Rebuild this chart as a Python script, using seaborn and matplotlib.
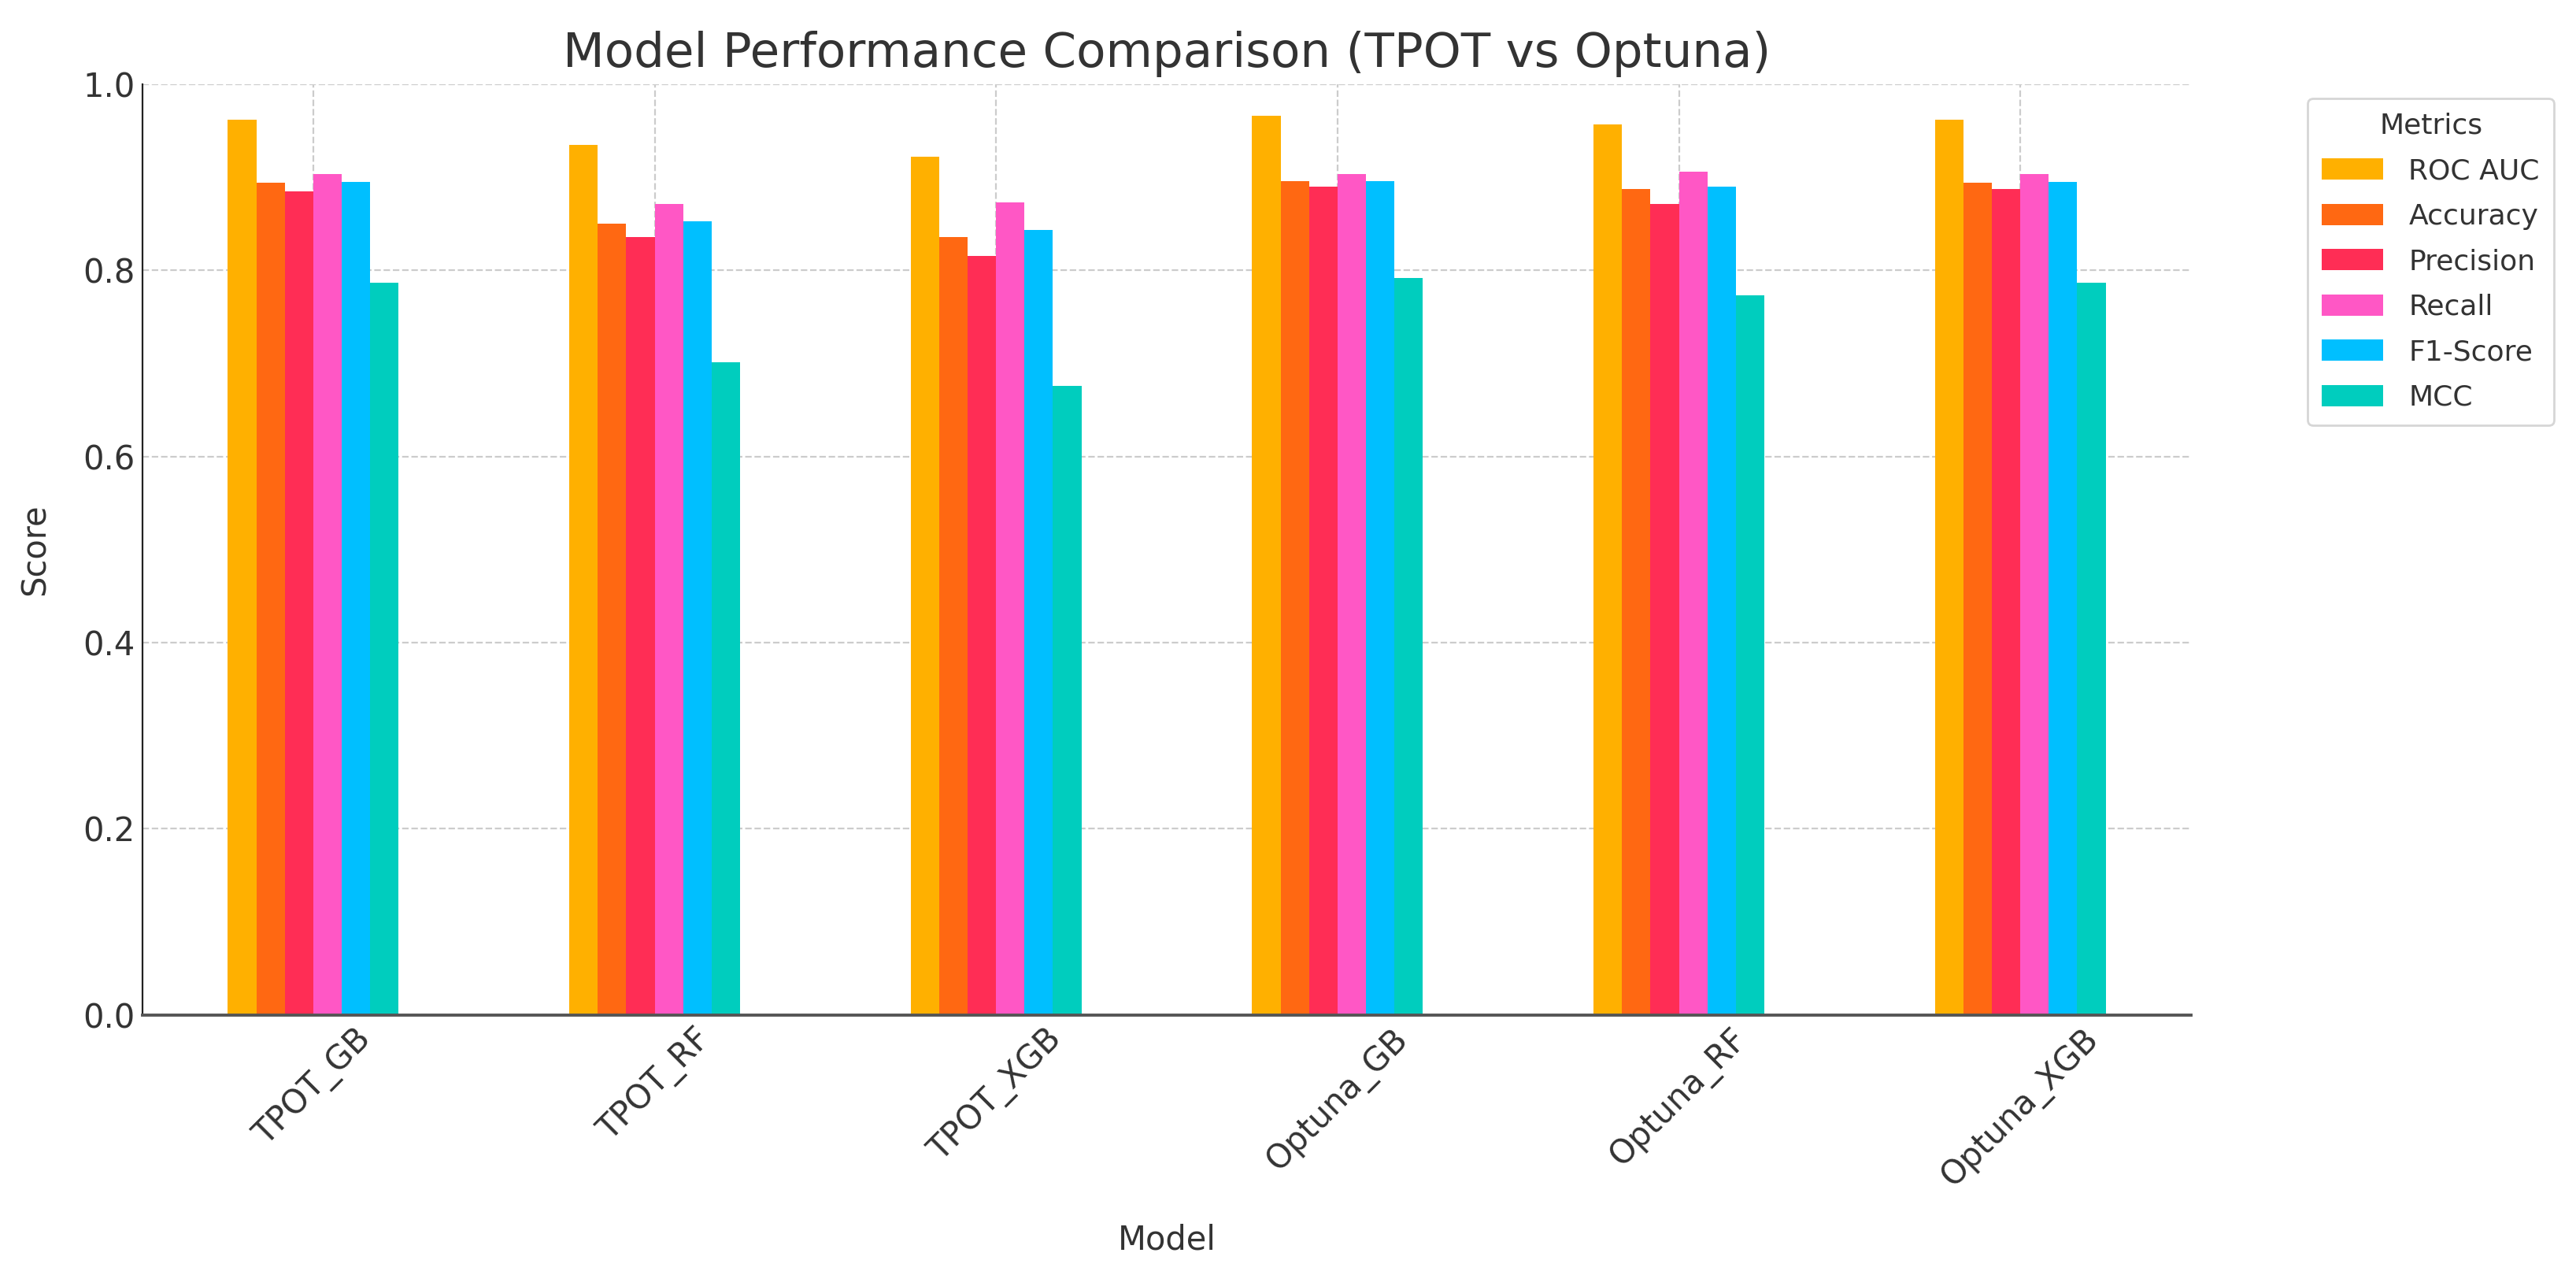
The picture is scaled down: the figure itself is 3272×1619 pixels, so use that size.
import pandas as pd
import matplotlib.pyplot as plt
import seaborn as sns

# data
models = ['TPOT_GB', 'TPOT_RF', 'TPOT_XGB', 'Optuna_GB', 'Optuna_RF', 'Optuna_XGB']
metrics = ['ROC AUC', 'Accuracy', 'Precision', 'Recall', 'F1-Score', 'MCC']
roc_auc = [0.962, 0.935, 0.922, 0.966, 0.957, 0.962]
accuracy = [0.894, 0.850, 0.836, 0.896, 0.887, 0.894]
precision = [0.885, 0.836, 0.815, 0.890, 0.871, 0.887]
recall = [0.903, 0.871, 0.873, 0.903, 0.906, 0.903]
f1_score = [0.895, 0.853, 0.843, 0.896, 0.890, 0.895]
mcc = [0.787, 0.701, 0.676, 0.792, 0.773, 0.787]
colors = ['#FFB000', '#FF6812', '#FF2D55', '#FF57C5', '#00BFFF', '#00CDBE']

wide = pd.DataFrame({'Model': models, 'ROC AUC': roc_auc, 'Accuracy': accuracy,
                     'Precision': precision, 'Recall': recall,
                     'F1-Score': f1_score, 'MCC': mcc})
data = wide.melt(id_vars='Model', var_name='Metrics', value_name='Score')

sns.set_style('white')
plt.rcParams['font.family'] = ['DejaVu Sans']
text_color = '#333333'

fig = plt.figure(figsize=(16.365, 8.095), dpi=200)
ax = fig.add_axes([0.0553, 0.204, 0.795, 0.730])
sns.barplot(data=data, x='Model', y='Score', hue='Metrics', hue_order=metrics,
            palette=colors, width=0.5, gap=0, saturation=1, linewidth=0,
            ax=ax, zorder=2)

ax.set_ylim(0, 1.0)
ax.set_xlim(-0.5, 5.5)
ax.set_yticks([0.0, 0.2, 0.4, 0.6, 0.8, 1.0])
ax.set_yticklabels(['0.0', '0.2', '0.4', '0.6', '0.8', '1.0'])
ax.grid(True, linestyle='--', color='#cccccc', linewidth=0.8, zorder=0)
ax.set_axisbelow(True)
sns.despine(ax=ax)
ax.spines['left'].set_color('#222222')
ax.spines['bottom'].set_color('#555555')
ax.spines['bottom'].set_linewidth(1.4)
ax.tick_params(direction='in', length=5, labelsize=15, colors='#222222',
               labelcolor=text_color)
plt.setp(ax.get_xticklabels(), rotation=45, ha='center')
ax.set_xlabel('Model', fontsize=15, color=text_color, labelpad=14)
ax.set_ylabel('Score', fontsize=15, color=text_color, labelpad=14)
ax.set_title('Model Performance Comparison (TPOT vs Optuna)', fontsize=22,
             color=text_color, pad=8)

leg = ax.legend(title='Metrics', bbox_to_anchor=(1.05, 1), loc='upper left',
                fontsize=13, title_fontsize=13, frameon=True,
                labelspacing=0.65, handlelength=2.15, handleheight=0.78,
                handletextpad=0.9, borderpad=0.5)
leg.get_frame().set_edgecolor('#cccccc')
for t in leg.get_texts():
    t.set_color(text_color)
leg.get_title().set_color(text_color)

fig.savefig('out.png', dpi=200)
